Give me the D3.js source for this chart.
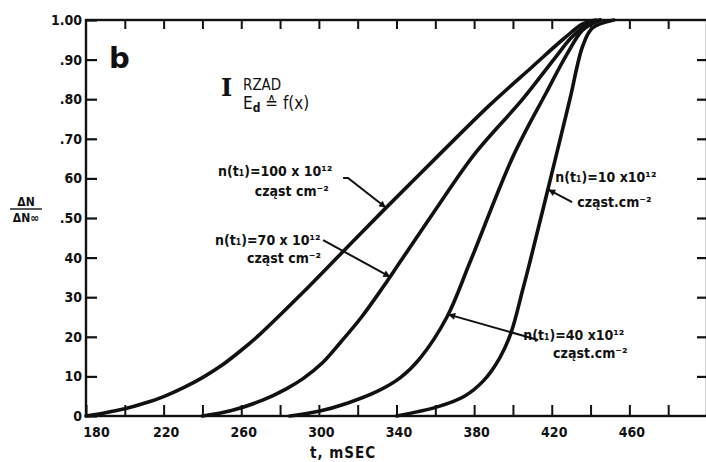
<!DOCTYPE html>
<html>
<head>
<meta charset="utf-8">
<script src="https://cdn.jsdelivr.net/npm/d3@7"></script>
<style>
  html, body { margin: 0; padding: 0; background: #fff; }
  svg { display: block; }
  text { fill: #111; }
</style>
</head>
<body>
<svg id="chart" width="706" height="462"></svg>
<script>
// ---- Data (t in ms, ΔN/ΔN∞) ----
const series100 = [[180,0],[190,0.008],[200,0.018],[210,0.032],[220,0.049],[230,0.071],[240,0.097],[250,0.128],[260,0.166],[270,0.208],[280,0.255],[292,0.313],[312,0.413],[333,0.518],[361,0.655],[388,0.785],[410,0.882],[426,0.952],[436,0.99],[443,1.0]];
const series70  = [[240,0],[255,0.014],[271,0.04],[283,0.068],[292,0.095],[302,0.135],[311,0.185],[322,0.25],[333,0.325],[342,0.39],[360,0.52],[380,0.66],[405,0.8],[421,0.9],[430,0.955],[437,0.985],[445,1.0]];
const series40  = [[285,0],[300,0.012],[315,0.033],[330,0.062],[342,0.097],[352,0.145],[366,0.25],[378,0.39],[400,0.655],[417,0.815],[428,0.915],[436,0.975],[445,1.0]];
const series10  = [[340,0],[361,0.023],[375,0.05],[385,0.09],[393,0.145],[399,0.21],[405,0.318],[409,0.394],[423,0.672],[429.5,0.803],[436,0.935],[441,0.98],[452,1.0]];

const xTickValues = [180,200,220,240,260,280,300,320,340,360,380,400,420,440,460,480];
const xTickLabels = ["180","","220","","260","","300","","340","","380","","420","","460",""];
const yTickValues = [0,0.1,0.2,0.3,0.4,0.5,0.6,0.7,0.8,0.9,1.0];
const yTickLabels = ["0","10","20","30","40",".50","60",".70",".80",".90","1.00"];

// ---- Layout ----
const svg = d3.select("#chart");
const x = d3.scaleLinear().domain([180, 500]).range([86, 707]);
const y = d3.scaleLinear().domain([0, 1]).range([416, 20]);
const FONT = "'DejaVu Sans Condensed', 'DejaVu Sans', sans-serif";

svg.append("rect").attr("width", 706).attr("height", 462).attr("fill", "#fff");

// Frame
svg.append("rect")
  .attr("x", x(180)).attr("y", y(1))
  .attr("width", x(500) - x(180)).attr("height", y(0) - y(1))
  .attr("fill", "none").attr("stroke", "#111").attr("stroke-width", 2.4);

// Bottom axis
const xAxis = d3.axisBottom(x).tickValues(xTickValues).tickSize(-11).tickPadding(8)
  .tickFormat((d, i) => xTickLabels[i]);
const gx = svg.append("g").attr("transform", `translate(0,${y(0)})`).call(xAxis);
gx.select(".domain").remove();
gx.selectAll(".tick line").attr("stroke", "#111").attr("stroke-width", 2);
gx.selectAll(".tick text").attr("font-family", FONT).attr("font-size", 14).attr("font-weight", "bold")
  .attr("fill", "#111").attr("dy", "0.9em")
  .attr("dx", (d) => d === 180 ? 10 : 2);

// Top axis
const xTop = d3.axisTop(x).tickValues(xTickValues.slice(1)).tickSize(-9).tickFormat("");
const gt = svg.append("g").attr("transform", `translate(0,${y(1)})`).call(xTop);
gt.select(".domain").remove();
gt.selectAll(".tick line").attr("stroke", "#111").attr("stroke-width", 2);

// Left axis
const yAxis = d3.axisLeft(y).tickValues(yTickValues).tickSize(-11).tickPadding(4)
  .tickFormat((d, i) => yTickLabels[i]);
const gy = svg.append("g").attr("transform", `translate(${x(180)},0)`).call(yAxis);
gy.select(".domain").remove();
gy.selectAll(".tick line").attr("stroke", "#111").attr("stroke-width", 2.2);
gy.selectAll(".tick text").attr("font-family", FONT).attr("font-size", 14).attr("font-weight", "bold").attr("fill", "#111");

// Right axis (inward ticks)
const yRight = d3.axisRight(y).tickValues(yTickValues.slice(1, 10)).tickSize(-10).tickFormat("");
const gr = svg.append("g").attr("transform", `translate(${x(500)},0)`).call(yRight);
gr.select(".domain").remove();
gr.selectAll(".tick line").attr("stroke", "#111").attr("stroke-width", 2.2);

// Curves
const line = d3.line().x(d => x(d[0])).y(d => y(d[1])).curve(d3.curveCatmullRom.alpha(0.5));
[series100, series70, series40, series10].forEach(s => {
  svg.append("path").datum(s).attr("d", line)
    .attr("fill", "none").attr("stroke", "#111").attr("stroke-width", 3.6)
    .attr("stroke-linejoin", "round").attr("stroke-linecap", "round");
});

// Arrow marker
svg.append("defs").append("marker")
  .attr("id", "arr").attr("viewBox", "0 0 10 10").attr("refX", 9).attr("refY", 5)
  .attr("markerWidth", 9).attr("markerHeight", 7).attr("markerUnits", "userSpaceOnUse")
  .attr("orient", "auto")
  .append("path").attr("d", "M0,0 L10,5 L0,10 z").attr("fill", "#111");

function arrow(points) {
  svg.append("path")
    .attr("d", d3.line().x(d => x(d[0])).y(d => y(d[1]))(points))
    .attr("fill", "none").attr("stroke", "#111").attr("stroke-width", 2)
    .attr("marker-end", "url(#arr)");
}
arrow([[312.5, 0.601], [315, 0.601], [334.3, 0.527]]);
arrow([[302.2, 0.444], [336.5, 0.352]]);
arrow([[430.5, 0.54], [418.5, 0.571]]);
arrow([[413, 0.192], [367, 0.256]]);

function label(t, v, txt, size) {
  svg.append("text").attr("x", x(t)).attr("y", y(v))
    .attr("font-family", FONT).attr("font-size", size || 14).attr("font-weight", "bold")
    .text(txt);
}
label(248, 0.606, "n(t₁)=100 x 10¹²");
label(267, 0.556, "cząst cm⁻²");
label(246.5, 0.432, "n(t₁)=70 x 10¹²");
label(263, 0.386, "cząst cm⁻²");
label(421.8, 0.591, "n(t₁)=10 x10¹²");
label(433.1, 0.528, "cząst.cm⁻²");
label(405.3, 0.192, "n(t₁)=40 x10¹²");
label(420.7, 0.146, "cząst.cm⁻²");

// Panel letter
svg.append("text").attr("x", 109).attr("y", 68)
  .attr("font-family", "'DejaVu Sans', sans-serif").attr("font-size", 29).attr("font-weight", "bold").text("b");

// "I RZAD  Ed = f(x)"
svg.append("text").attr("x", 221).attr("y", 96)
  .attr("font-family", "'DejaVu Serif', serif").attr("font-size", 24).attr("font-weight", "bold").text("I");
svg.append("text").attr("x", 243).attr("y", 90)
  .attr("font-family", FONT).attr("font-size", 15).text("RZAD");
const ed = svg.append("text").attr("x", 243).attr("y", 109)
  .attr("font-family", FONT).attr("font-size", 17);
ed.append("tspan").text("E");
ed.append("tspan").attr("font-size", 12).attr("font-weight", "bold").attr("dy", 3).text("d");
ed.append("tspan").attr("dy", -3).text(" ≙ f(x)");

// Y axis label (fraction)
svg.append("text").attr("x", 26).attr("y", 206).attr("text-anchor", "middle")
  .attr("font-family", FONT).attr("font-size", 12).attr("font-weight", "bold").text("ΔN");
svg.append("line").attr("x1", 10).attr("x2", 42).attr("y1", 209).attr("y2", 209)
  .attr("stroke", "#111").attr("stroke-width", 1.4);
svg.append("text").attr("x", 26).attr("y", 222).attr("text-anchor", "middle")
  .attr("font-family", FONT).attr("font-size", 12).attr("font-weight", "bold").text("ΔN∞");

// X axis label
svg.append("text").attr("x", 310).attr("y", 458)
  .attr("font-family", FONT).attr("font-size", 15).attr("font-weight", "bold")
  .attr("letter-spacing", 1).text("t, mSEC");
</script>
</body>
</html>
